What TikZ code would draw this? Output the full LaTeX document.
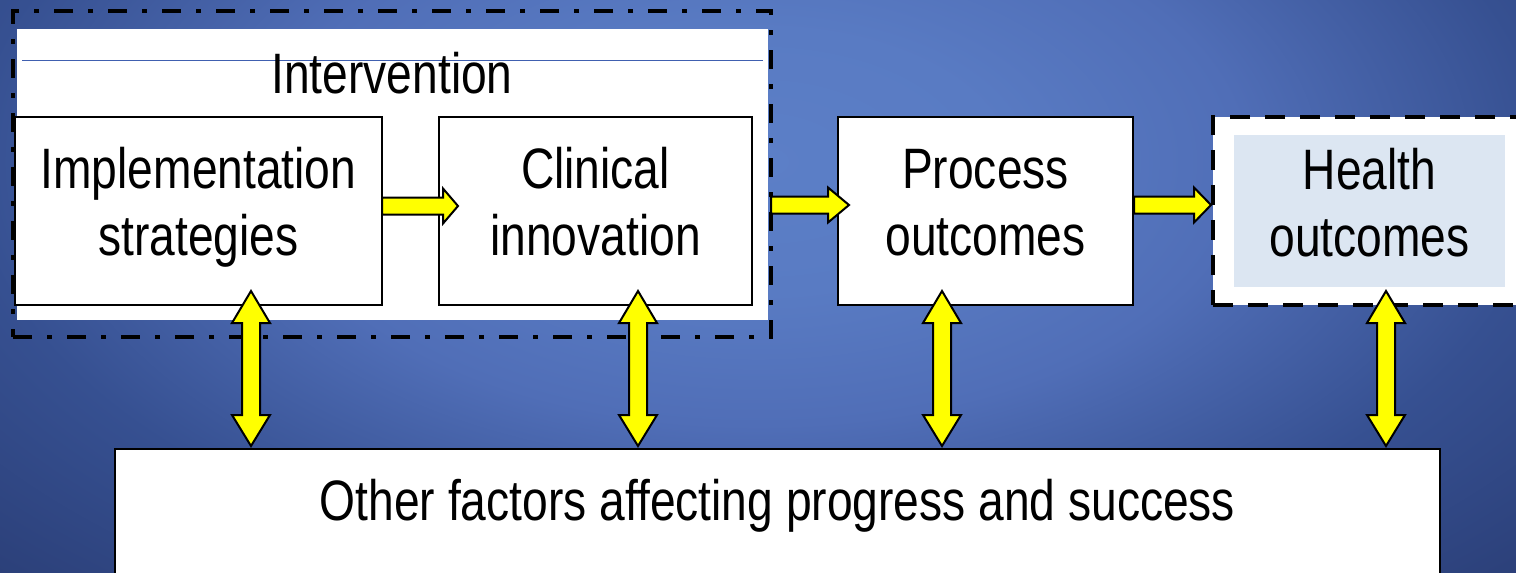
\documentclass[tikz,border=0pt]{standalone}
\usepackage{fontspec}
\setmainfont{Liberation Sans}[FakeStretch=0.81]
\usetikzlibrary{calc}
\definecolor{bgA}{RGB}{92,127,199}
\definecolor{bgB}{RGB}{89,123,195}
\definecolor{bgC}{RGB}{80,110,183}
\definecolor{bgD}{RGB}{54,80,145}
\definecolor{bgE}{RGB}{43,63,120}
\definecolor{lineblue}{RGB}{64,96,176}
\definecolor{healthfill}{RGB}{220,230,242}
\definecolor{arrowyellow}{RGB}{255,255,0}
\pgfdeclareradialshading{bgshade}{\pgfpoint{0bp}{0bp}}{color(0bp)=(bgA); color(8bp)=(bgB); color(16bp)=(bgC); color(26bp)=(bgD); color(36bp)=(bgE); color(50bp)=(bgE)}
\newcommand\harrow[4]{%
  \draw[yarr] (#1,#4-8.5) -- (#2,#4-8.5) -- (#2,#4-17.5) -- (#3,#4) -- (#2,#4+17.5) -- (#2,#4+8.5) -- (#1,#4+8.5) -- cycle;}
\newcommand\varrow[3]{%
  \draw[yarr] (#1,#2) -- (#1+19,#2+32) -- (#1+9,#2+32) -- (#1+9,#3-31) -- (#1+19,#3-31) -- (#1,#3) -- (#1-19,#3-31) -- (#1-9,#3-31) -- (#1-9,#2+32) -- (#1-19,#2+32) -- cycle;}
\begin{document}
\begin{tikzpicture}[x=1pt,y=-1pt,
  box/.style={draw=black, line width=2pt, fill=white, inner sep=0pt},
  yarr/.style={draw=black, line width=2pt, fill=arrowyellow, line join=miter},
  txt/.style={font=\fontsize{57}{67}\selectfont, inner sep=0pt, text=black}]
\useasboundingbox (0,0) rectangle (1516,573);
\clip (0,0) rectangle (1516,573);
\shade[shading=bgshade] (0,-250) rectangle (1516,573);
% intervention region
\fill[white] (17,29) rectangle (768,320);
\draw[line width=1pt, lineblue] (22,60) -- (763,60);
\node[draw=black, line width=4pt, dash pattern=on 19pt off 15pt on 5pt off 15pt,
      minimum width=758, minimum height=326, inner sep=0pt] (intv) at (392,174) {};
% boxes
\node[box, minimum width=367, minimum height=188] (impl) at (198.5,211) {};
\node[box, minimum width=313, minimum height=188] (clin) at (595.5,211) {};
\node[box, minimum width=295, minimum height=188] (proc) at (985.5,211) {};
\node[draw=black, fill=white, line width=4pt, dash pattern=on 20pt off 15pt,
      minimum width=327, minimum height=188, inner sep=0pt] (hout) at (1376.5,211) {};
\node[fill=healthfill, minimum width=271, minimum height=152, inner sep=0pt] (hin) at (1369.5,211) {};
\node[box, minimum width=1325, minimum height=171] (other) at (777.5,534.5) {};
% arrows
\harrow{382}{443}{458}{206}
\harrow{771}{828}{849}{205}
\harrow{1134}{1194}{1211}{205}
\varrow{251}{291}{446}
\varrow{638}{291}{446}
\varrow{942}{291}{446}
\varrow{1386}{291}{446}
% texts
\node[txt, anchor=base] (tint) at (392,93) {Intervention};
\node[txt, anchor=base] (timpl) at (198.5,188) {\begin{tabular}[t]{@{}c@{}}Implementation\\strategies\end{tabular}};
\node[txt, anchor=base] (tclin) at (595.5,188) {\begin{tabular}[t]{@{}c@{}}Clinical\\innovation\end{tabular}};
\node[txt, anchor=base] (tproc) at (985.5,188) {\begin{tabular}[t]{@{}c@{}}Process\\outcomes\end{tabular}};
\node[txt, anchor=base] (thealth) at (1369.5,189) {\begin{tabular}[t]{@{}c@{}}Health\\outcomes\end{tabular}};
\node[txt, anchor=base] (tother) at (777.5,520) {Other factors affecting progress and success};
\end{tikzpicture}
\end{document}
